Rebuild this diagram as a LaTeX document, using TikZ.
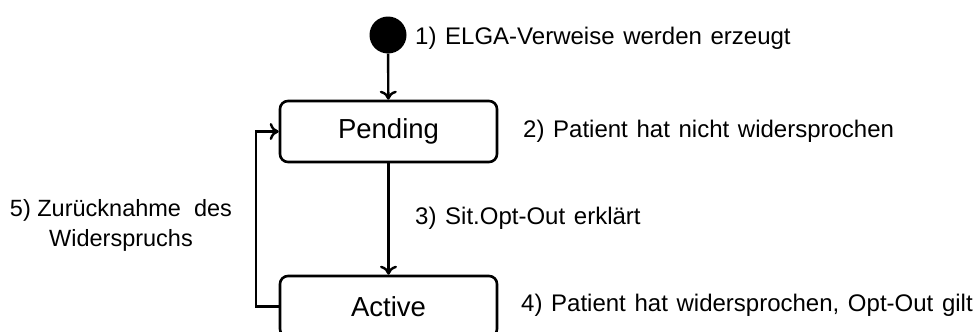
\documentclass[tikz,border=0pt]{standalone}
\usepackage{fontspec}
\setmainfont{Liberation Sans}
\newfontfamily\notizfont[WordSpace=1.3]{Liberation Sans}
\usetikzlibrary{arrows.meta}
\tikzset{
  zustand/.style={draw,line width=2.6pt,rounded corners=8pt,minimum width=217pt,minimum height=61pt,font=\fontsize{27.5}{32}\selectfont},
  uebergang/.style={line width=2.4pt,-{To[length=9pt,width=17pt,line width=2.4pt]}},
  notiz/.style={anchor=west,font=\notizfont\fontsize{24}{28}\selectfont,inner sep=0pt}
}
\begin{document}
\begin{tikzpicture}[x=1pt,y=-1pt]
\useasboundingbox (0,0) rectangle (975,332);

\node[circle,fill=black,minimum size=37pt,inner sep=0pt] (start) at (388,35) {};
\node[zustand] (pending) at (388.5,131.5) {Pending};
\node[zustand] (active) at (388.5,306.5) {Active};

\draw[uebergang] (start) -- (pending); % 1)
\draw[uebergang] (pending) -- (active); % 3)
\draw[uebergang] (active.west) -- ++(-23,0) |- (pending.west); % 5)

\node[notiz] (n1) at (415,38) {1) ELGA-Verweise werden erzeugt};
\node[notiz] (n2) at (523,131) {2) Patient hat nicht widersprochen};
\node[notiz] (n3) at (415,218) {3) Sit.Opt-Out erklärt};
\node[notiz] (n4) at (521,305) {4) Patient hat widersprochen, Opt-Out gilt};
\node[align=center,font=\fontsize{23.5}{30}\selectfont,inner sep=0pt] (n5) at (121,225) {5) Zurücknahme\ \ des\\Widerspruchs};

\end{tikzpicture}
\end{document}
